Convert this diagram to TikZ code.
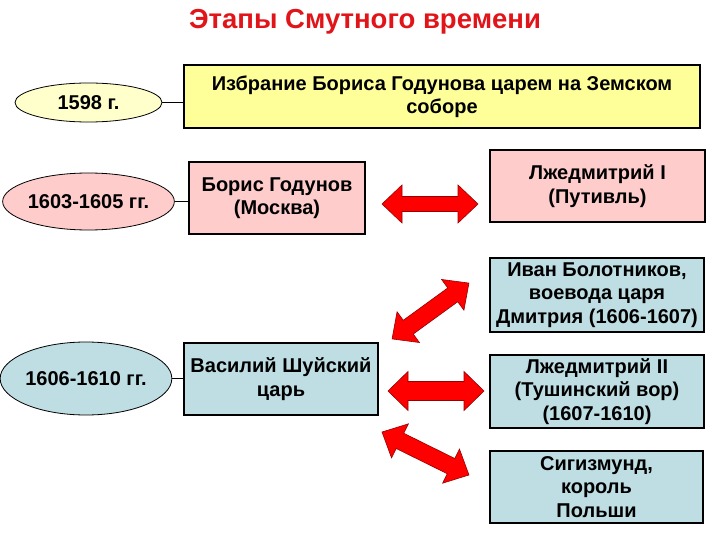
\documentclass[tikz,border=0pt]{standalone}
\usepackage{fontspec}
\setmainfont{Liberation Sans}
\usetikzlibrary{shapes.geometric}
\definecolor{yelbox}{RGB}{255,255,153}
\definecolor{yelell}{RGB}{255,255,204}
\definecolor{pinkbox}{RGB}{255,204,204}
\definecolor{bluebox}{RGB}{190,222,228}
\definecolor{titlered}{RGB}{225,20,25}
\definecolor{arrred}{RGB}{255,0,0}
\definecolor{arredge}{RGB}{150,0,0}
\tikzset{
  box/.style={draw=black, line width=1.2bp, rectangle, inner sep=0pt, align=center,
    font=\fontsize{20bp}{23.5bp}\selectfont\bfseries},
  ell/.style={draw=black, line width=0.8bp, ellipse, inner sep=0pt, align=center,
    font=\fontsize{20bp}{23.5bp}\selectfont\bfseries},
  link/.style={draw=black, line width=0.8bp},
  bigarrow/.style={fill=arrred, draw=arredge, line width=0.6bp, line join=miter},
}
\newcommand{\dblarr}[5]{% center, angle, length, head half width, shaft half width
  \path[bigarrow, shift={#1}, rotate=#2]
    (-#3/2,0) -- (-#3/2+20,-#4) -- (-#3/2+20,-#5) -- (#3/2-20,-#5) -- (#3/2-20,-#4)
    -- (#3/2,0) -- (#3/2-20,#4) -- (#3/2-20,#5) -- (-#3/2+20,#5) -- (-#3/2+20,#4) -- cycle;}
\begin{document}
\begin{tikzpicture}[x=1bp,y=-1bp]
\useasboundingbox[fill=white] (0,0) rectangle (720,540);

\node[text=titlered, font=\fontsize{27.5bp}{32bp}\selectfont\bfseries] (title) at (365,22) {Этапы Смутного времени};

% left column
\node[ell, fill=yelell, minimum width=147bp, minimum height=39bp] (e1) at (88.5,102.5) {1598 г.};
\node[ell, fill=pinkbox, minimum width=147bp, minimum height=57bp] (e2) at (88.5,201.5) {1603-1605 гг.};
\node[ell, fill=bluebox, minimum width=142bp, minimum height=73bp] (e3) at (86,378.5) {1606-1610 гг.};

% boxes
\node[box, fill=yelbox, minimum width=516bp, minimum height=63bp] (b1) at (442,96.5)
  {Избрание Бориса Годунова царем на Земском\\соборе};
\node[box, fill=pinkbox, minimum width=176bp, minimum height=72bp] (b2) at (277,198)
  {Борис Годунов\\(Москва)};
\node[box, fill=pinkbox, minimum width=215bp, minimum height=72bp] (b3) at (597.5,186)
  {Лжедмитрий I\\(Путивль)};
\node[box, fill=bluebox, minimum width=214bp, minimum height=74bp] (b4) at (597,295)
  {Иван Болотников,\\воевода царя\\Дмитрия (1606-1607)};
\node[box, fill=bluebox, minimum width=194bp, minimum height=72bp] (b5) at (281,379)
  {Василий Шуйский\\царь};
\node[box, fill=bluebox, minimum width=214bp, minimum height=73bp] (b6) at (597,391.5)
  {Лжедмитрий II\\(Тушинский вор)\\(1607-1610)};
\node[box, fill=bluebox, minimum width=213bp, minimum height=72bp] (b7) at (596.5,487)
  {Сигизмунд,\\король\\Польши};

% connectors
\draw[link] (e1.east) -- (e1.east -| b1.west);
\draw[link] (e2.east) -- (e2.east -| b2.west);
\draw[link] (e3.east) -- (e3.east -| b5.west);

% double arrows
\dblarr{(430,204)}{0}{96}{19}{7.5}
\dblarr{(430.5,311)}{36}{95}{19}{8.5}
\dblarr{(436,391)}{0}{96}{19.5}{9.5}
\dblarr{(425.5,453.5)}{-26.3}{97}{19}{8.5}
\end{tikzpicture}
\end{document}
